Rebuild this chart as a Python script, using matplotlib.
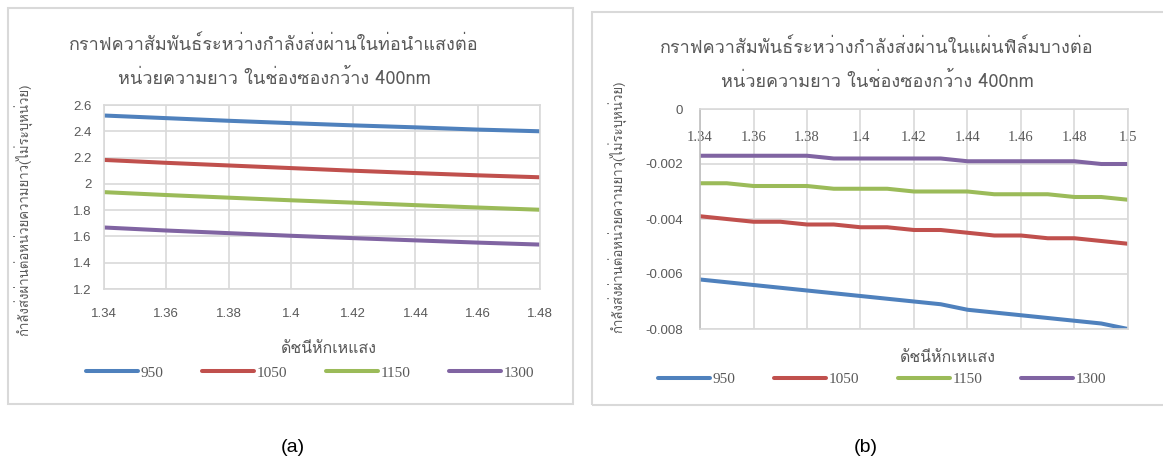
import matplotlib
matplotlib.use("Agg")
import matplotlib.pyplot as plt
from matplotlib import font_manager
from matplotlib.ft2font import FT2Font
from matplotlib.patches import Rectangle


def thai_family():
    # first installed family that carries Thai glyphs
    for f in font_manager.fontManager.ttflist:
        try:
            if 0x0E01 in FT2Font(f.fname).get_charmap():
                return f.name
        except Exception:
            pass
    return "DejaVu Sans"


THAI = [thai_family(), "DejaVu Sans"]
SANS = ["Liberation Sans", "DejaVu Sans"]
SERIF = ["Liberation Serif", "DejaVu Serif"]

GRID = "#d9d9d9"
TXT = "#595959"
COLORS = ("#4f81bd", "#c0504d", "#9bbb59", "#8064a2")

series_names = ["950", "1050", "1150", "1300"]

# (a) waveguide
idx_a = [1.34, 1.36, 1.38, 1.40, 1.42, 1.44, 1.46, 1.48]
p950_a = [2.52, 2.50, 2.48, 2.462, 2.445, 2.43, 2.413, 2.40]
p1050_a = [2.182, 2.16, 2.14, 2.12, 2.10, 2.082, 2.065, 2.05]
p1150_a = [1.937, 1.915, 1.895, 1.875, 1.857, 1.838, 1.82, 1.803]
p1300_a = [1.668, 1.645, 1.625, 1.605, 1.587, 1.57, 1.553, 1.538]

# (b) thin film
idx_b = [1.34, 1.35, 1.36, 1.37, 1.38, 1.39, 1.40, 1.41, 1.42,
         1.43, 1.44, 1.45, 1.46, 1.47, 1.48, 1.49, 1.50]
p950_b = [-0.0062, -0.0063, -0.0064, -0.0065, -0.0066, -0.0067, -0.0068, -0.0069, -0.0070,
          -0.0071, -0.0073, -0.0074, -0.0075, -0.0076, -0.0077, -0.0078, -0.0080]
p1050_b = [-0.0039, -0.0040, -0.0041, -0.0041, -0.0042, -0.0042, -0.0043, -0.0043, -0.0044,
           -0.0044, -0.0045, -0.0046, -0.0046, -0.0047, -0.0047, -0.0048, -0.0049]
p1150_b = [-0.0027, -0.0027, -0.0028, -0.0028, -0.0028, -0.0029, -0.0029, -0.0029, -0.0030,
           -0.0030, -0.0030, -0.0031, -0.0031, -0.0031, -0.0032, -0.0032, -0.0033]
p1300_b = [-0.0017, -0.0017, -0.0017, -0.0017, -0.0017, -0.0018, -0.0018, -0.0018, -0.0018,
           -0.0018, -0.0019, -0.0019, -0.0019, -0.0019, -0.0019, -0.0020, -0.0020]

yticks_a = [1.2, 1.4, 1.6, 1.8, 2.0, 2.2, 2.4, 2.6]
ytick_labels_a = ["1.2", "1.4", "1.6", "1.8", "2", "2.2", "2.4", "2.6"]
xtick_labels_a = ["1.34", "1.36", "1.38", "1.4", "1.42", "1.44", "1.46", "1.48"]
xticks_b = [1.34, 1.36, 1.38, 1.40, 1.42, 1.44, 1.46, 1.48, 1.50]
xtick_labels_b = ["1.34", "1.36", "1.38", "1.4", "1.42", "1.44", "1.46", "1.48", "1.5"]
yticks_b = [-0.008, -0.006, -0.004, -0.002, 0]
ytick_labels_b = ["-0.008", "-0.006", "-0.004", "-0.002", "0"]

title_a = "กราฟควาสัมพันธ์ระหว่างกำลังส่งผ่านในท่อนำแสงต่อ\nหน่วยความยาว ในช่องซองกว้าง 400nm"
title_b = "กราฟควาสัมพันธ์ระหว่างกำลังส่งผ่านในแผ่นฟิล์มบางต่อ\nหน่วยความยาว ในช่องซองกว้าง 400nm"
ylabel = "กำลังส่งผ่านต่อหน่วยความยาว(ไม่ระบุหน่วย)"
xlabel = "ดัชนีหักเหแสง"

W, H = 1163, 463
fig = plt.figure(figsize=(W / 100, H / 100), dpi=100)


def fx(px):
    return px / W


def fy(py):
    return 1 - py / H


# chart frames
fig.patches.append(Rectangle((fx(8), fy(404)), fx(565), 396 / H, transform=fig.transFigure,
                             fill=False, edgecolor=GRID, lw=1.5))
fig.patches.append(Rectangle((fx(592), fy(405)), fx(580), 393 / H, transform=fig.transFigure,
                             fill=False, edgecolor=GRID, lw=1.5))


def style_axes(ax):
    ax.grid(True, color=GRID, lw=1.2)
    ax.set_axisbelow(True)
    for s in ax.spines.values():
        s.set_color(GRID)
        s.set_linewidth(1.2)
    ax.tick_params(length=0, colors=TXT)


def draw_lines(ax, x, series):
    for ys, c, n in zip(series, COLORS, series_names):
        ax.plot(x, ys, color=c, lw=2.9, solid_capstyle="round",
                solid_joinstyle="round", label=n)


def add_legend(ax, cx, cy):
    h, l = ax.get_legend_handles_labels()
    fig.legend(h, l, loc="center", bbox_to_anchor=(fx(cx), fy(cy)), ncol=4, frameon=False,
               prop={"family": SERIF, "size": 11}, labelcolor=TXT, handlelength=3.4,
               handletextpad=0.2, columnspacing=2.5)


# ---- (a)
ax1 = fig.add_axes([fx(104), fy(289), fx(436), 184 / H])
draw_lines(ax1, idx_a, [p950_a, p1050_a, p1150_a, p1300_a])
ax1.set_xlim(1.34, 1.48)
ax1.set_ylim(1.2, 2.6)
ax1.set_xticks(idx_a, xtick_labels_a, family=SANS, fontsize=9.5)
ax1.set_yticks(yticks_a, ytick_labels_a, family=SANS, fontsize=9.5)
style_axes(ax1)
ax1.tick_params(axis="x", pad=14)
ax1.tick_params(axis="y", pad=9)
ax1.set_xlabel(xlabel, family=THAI, fontsize=11.5, color=TXT)
ax1.xaxis.set_label_coords(0.516, -0.28)
ax1.set_ylabel(ylabel, family=THAI, fontsize=9.5, color=TXT)
ax1.yaxis.set_label_coords(-0.163, 0.43)
fig.text(fx(274), fy(62), title_a, family=THAI, fontsize=13, color=TXT,
         ha="center", va="center", linespacing=2.0)
add_legend(ax1, 310, 373)

# ---- (b)
ax2 = fig.add_axes([fx(700), fy(329), fx(428), 220 / H])
draw_lines(ax2, idx_b, [p950_b, p1050_b, p1150_b, p1300_b])
ax2.set_xlim(1.34, 1.50)
ax2.set_ylim(-0.008, 0)
ax2.set_xticks(xticks_b, xtick_labels_b, family=SERIF, fontsize=10.5)
ax2.set_yticks(yticks_b, ytick_labels_b, family=SANS, fontsize=9.5)
style_axes(ax2)
ax2.spines["left"].set_color("#bfbfbf")
ax2.tick_params(axis="x", bottom=False, labelbottom=False, top=False, labeltop=True, pad=-25)
ax2.tick_params(axis="y", pad=12)
ax2.set_xlabel(xlabel, family=THAI, fontsize=11.5, color=TXT)
ax2.xaxis.set_label_coords(0.58, -0.095)
ax2.set_ylabel(ylabel, family=THAI, fontsize=9.5, color=TXT)
ax2.yaxis.set_label_coords(-0.17, 0.555)
fig.text(fx(877), fy(65), title_b, family=THAI, fontsize=13, color=TXT,
         ha="center", va="center", linespacing=2.0)
add_legend(ax2, 882, 379)

# panel captions
fig.text(fx(293), fy(447), "(a)", family=SANS, fontsize=14, ha="center", va="center")
fig.text(fx(866), fy(447), "(b)", family=SANS, fontsize=14, ha="center", va="center")

fig.savefig("out.png", dpi=100)
